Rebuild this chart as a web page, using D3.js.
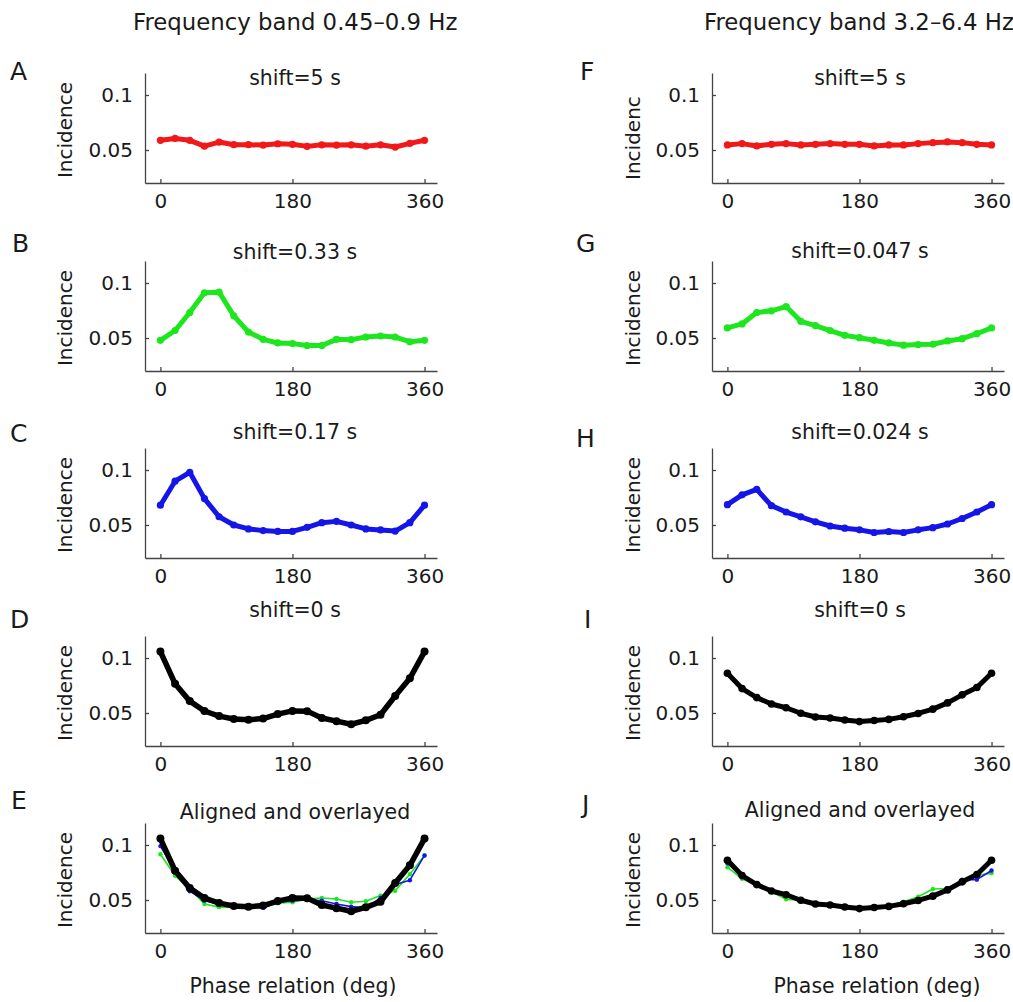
<!DOCTYPE html>
<html><head><meta charset="utf-8">
<script src="https://cdn.jsdelivr.net/npm/d3@7"></script>
<style>
body{margin:0;background:#fff}
svg{display:block}
text{font-family:"DejaVu Sans",sans-serif;fill:#1a1a1a}
</style>
</head><body>
<svg id="c" width="1013" height="1002"></svg>
<script>
// ---------- data ----------
const phase = [0,20,40,60,80,100,120,140,160,180,200,220,240,260,280,300,320,340,360];
const xTickValues = [0,180,360];
const yTickValues = [0.05,0.1];

const columnTitles = ["Frequency band 0.45\u20130.9 Hz","Frequency band 3.2\u20136.4 Hz"];
const panelLetters = [["A","B","C","D","E"],["F","G","H","I","J"]];
const subtitlesLeft = ["shift=5 s","shift=0.33 s","shift=0.17 s","shift=0 s","Aligned and overlayed"];
const subtitlesRight = ["shift=5 s","shift=0.047 s","shift=0.024 s","shift=0 s","Aligned and overlayed"];
const yLabelLeft = "Incidence";
const yLabelRight = ["Incidenc","Incidence","Incidence","Incidence","Incidence"];
const xLabel = "Phase relation (deg)";

// left column (0.45-0.9 Hz)
const redA   = [0.0588,0.0605,0.0588,0.0535,0.0572,0.0548,0.0548,0.0545,0.0557,0.0552,0.0533,0.0547,0.0545,0.0547,0.0535,0.0547,0.0527,0.0560,0.0588];
const greenB = [0.0479,0.0568,0.0732,0.0911,0.0917,0.0702,0.0554,0.0488,0.0455,0.0449,0.0432,0.0432,0.0488,0.0485,0.0509,0.0518,0.0509,0.0466,0.0479];
const blueC  = [0.0680,0.0898,0.0979,0.0740,0.0575,0.0500,0.0464,0.0449,0.0442,0.0442,0.0479,0.0521,0.0533,0.0500,0.0464,0.0455,0.0445,0.0521,0.0680];
const blackD = [0.1058,0.0766,0.0608,0.0518,0.0472,0.0446,0.0438,0.0449,0.0490,0.0519,0.0517,0.0455,0.0426,0.0398,0.0433,0.0484,0.0655,0.0815,0.1058];
const greenE = [0.0916,0.0720,0.0600,0.0464,0.0435,0.0432,0.0440,0.0449,0.0470,0.0479,0.0509,0.0518,0.0509,0.0479,0.0488,0.0540,0.0584,0.0735,0.0905];
const blueE  = [0.0990,0.0765,0.0580,0.0494,0.0464,0.0449,0.0434,0.0428,0.0479,0.0494,0.0500,0.0494,0.0464,0.0440,0.0428,0.0518,0.0640,0.0680,0.0905];

// right column (3.2-6.4 Hz)
const redF   = [0.0546,0.0558,0.0537,0.0552,0.0558,0.0546,0.0552,0.0558,0.0552,0.0552,0.0537,0.0546,0.0546,0.0558,0.0567,0.0573,0.0567,0.0552,0.0546];
const greenG = [0.0592,0.0628,0.0732,0.0747,0.0786,0.0652,0.0613,0.0568,0.0524,0.0503,0.0479,0.0455,0.0435,0.0440,0.0443,0.0473,0.0494,0.0539,0.0592];
const blueH  = [0.0685,0.0774,0.0824,0.0676,0.0618,0.0574,0.0529,0.0491,0.0471,0.0456,0.0432,0.0441,0.0432,0.0456,0.0476,0.0509,0.0559,0.0618,0.0685];
const blackI = [0.0862,0.0722,0.0640,0.0582,0.0548,0.0498,0.0464,0.0455,0.0436,0.0422,0.0432,0.0442,0.0466,0.0496,0.0535,0.0592,0.0665,0.0732,0.0862];
const greenJ = [0.0798,0.0693,0.0634,0.0574,0.0506,0.0500,0.0464,0.0455,0.0440,0.0426,0.0435,0.0446,0.0485,0.0530,0.0600,0.0604,0.0664,0.0723,0.0744];
const blueJ  = [0.0833,0.0723,0.0634,0.0589,0.0554,0.0500,0.0464,0.0455,0.0440,0.0426,0.0435,0.0446,0.0476,0.0506,0.0545,0.0604,0.0685,0.0685,0.0768];

// ---------- style / layout ----------
const RED = "#f01818", GREEN = "#1ee61e", BLUE = "#1515e8", BLACK = "#000";
const colX = [145, 712];
const axisW = 292, axisH = 110;
const rowBottom = [183, 371, 558, 746, 933];
const subBaseline = [[85,259,439,617,819],[85,258,439,617,817]];
const letterPos = [[[10,80],[12,252],[10,442],[10,628],[11,809]],[[580,80],[576,252],[576,447],[584,628],[582,813]]];
const xDomain = [-21, 377];
const yDomain = [0.02, 0.12];

const sty = (data,color,w,r)=>({data,color,w,r});
const series = [
  [[sty(redA,RED,5,3.6)],[sty(greenB,GREEN,5,3.6)],[sty(blueC,BLUE,5,3.6)],[sty(blackD,BLACK,5.5,4)],
   [sty(greenE,GREEN,1.6,2.2),sty(blueE,BLUE,1.6,2.2),sty(blackD,BLACK,5.5,4)]],
  [[sty(redF,RED,5,3.6)],[sty(greenG,GREEN,5,3.6)],[sty(blueH,BLUE,5,3.6)],[sty(blackI,BLACK,5,3.8)],
   [sty(greenJ,GREEN,1.6,2.2),sty(blueJ,BLUE,1.6,2.2),sty(blackI,BLACK,5,3.8)]]
];

const svg = d3.select("#c");

// column titles
svg.append("text").attr("x",133).attr("y",30).attr("font-size",22.8).text(columnTitles[0]);
svg.append("text").attr("x",704).attr("y",30).attr("font-size",22.8).text(columnTitles[1]);

for (let c=0;c<2;c++){
  for (let r=0;r<5;r++){
    const x0 = colX[c], yb = rowBottom[r];
    const x = d3.scaleLinear().domain(xDomain).range([x0, x0+axisW]);
    const y = d3.scaleLinear().domain(yDomain).range([yb, yb-axisH]);
    const g = svg.append("g");

    // axes
    const xa = g.append("g").attr("transform",`translate(0,${yb})`)
      .call(d3.axisBottom(x).tickValues(xTickValues).tickSizeInner(-4).tickSizeOuter(0).tickPadding(11).tickFormat(d3.format("d")));
    const ya = g.append("g").attr("transform",`translate(${x0},0)`)
      .call(d3.axisLeft(y).tickValues(yTickValues).tickSizeInner(-4).tickSizeOuter(0).tickPadding(12).tickFormat(d=>String(d)));
    [xa,ya].forEach(a=>{
      a.attr("font-size",20).attr("font-family","DejaVu Sans, sans-serif");
      a.selectAll("path,line").attr("stroke","#444").attr("stroke-width",1.3);
      a.selectAll("text").attr("fill","#1a1a1a");
    });

    // series
    const line = d3.line().x((d,i)=>x(phase[i])).y(d=>y(d));
    series[c][r].forEach(s=>{
      g.append("path").attr("d",line(s.data)).attr("fill","none")
        .attr("stroke",s.color).attr("stroke-width",s.w)
        .attr("stroke-linejoin","round").attr("stroke-linecap","round");
      g.selectAll(null).data(s.data).join("circle")
        .attr("cx",(d,i)=>x(phase[i])).attr("cy",d=>y(d)).attr("r",s.r).attr("fill",s.color);
    });

    // subtitle
    const subs = c===0 ? subtitlesLeft : subtitlesRight;
    svg.append("text").attr("x", c===0 ? 295 : 860).attr("y", subBaseline[c][r])
      .attr("text-anchor","middle").attr("font-size",20.5).text(subs[r]);

    // y label
    const lbl = c===0 ? yLabelLeft : yLabelRight[r];
    const lx = c===0 ? 72 : 640;
    if (lbl === "Incidence") {
      svg.append("text").attr("transform",`translate(${lx},${yb-axisH/2+2}) rotate(-90)`)
        .attr("text-anchor","middle").attr("font-size",20).text(lbl);
    } else {
      svg.append("text").attr("transform",`translate(${lx},${yb-3}) rotate(-90)`)
        .attr("text-anchor","start").attr("font-size",20).text(lbl);
    }

    // panel letter
    svg.append("text").attr("x",letterPos[c][r][0]).attr("y",letterPos[c][r][1])
      .attr("font-size",25).text(panelLetters[c][r]);
  }
}

// x labels
svg.append("text").attr("x",293).attr("y",993).attr("text-anchor","middle").attr("font-size",20.5).text(xLabel);
svg.append("text").attr("x",877).attr("y",993).attr("text-anchor","middle").attr("font-size",20.5).text(xLabel);
</script>
</body></html>
